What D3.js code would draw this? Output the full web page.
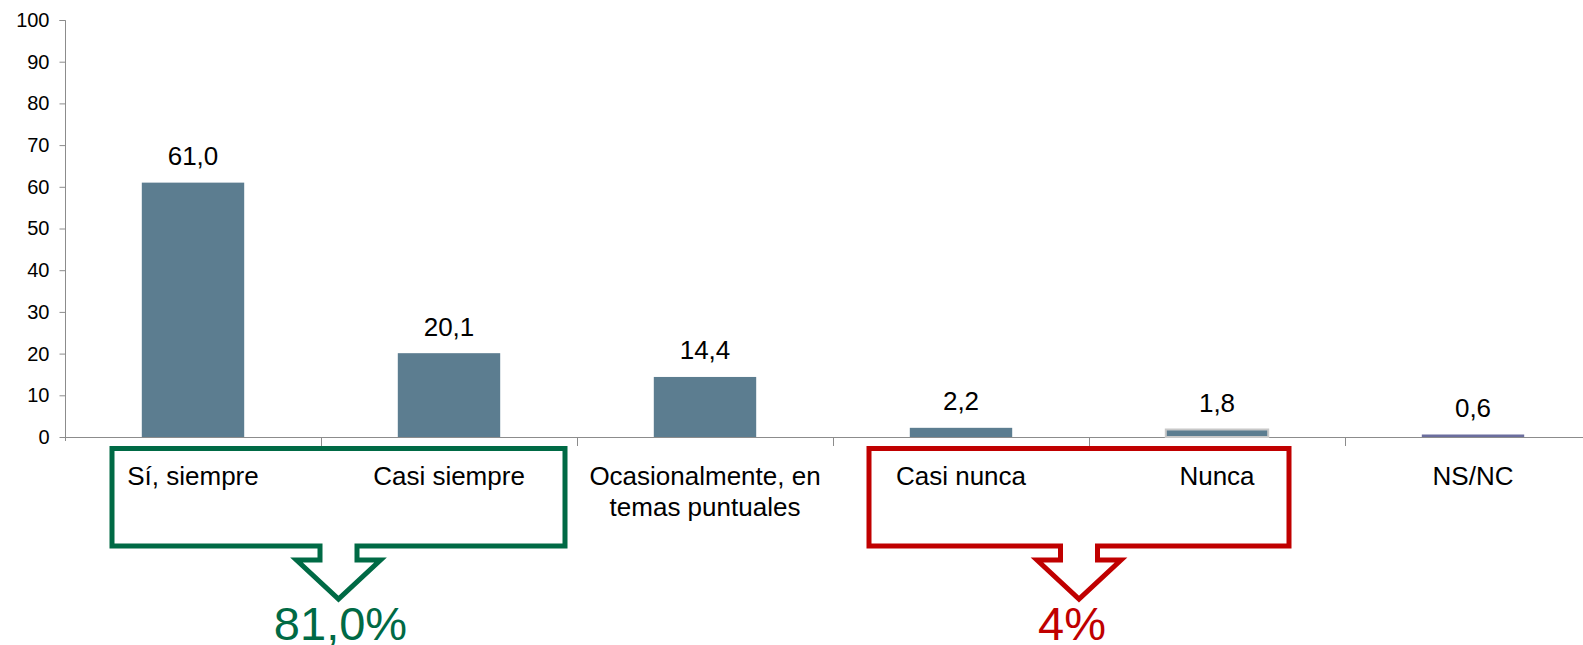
<!DOCTYPE html>
<html lang="es">
<head>
    <meta charset="UTF-8">
    <title>Frecuencia</title>
    <script src="https://d3js.org/d3.v7.min.js"></script>
    <style>
        body { margin: 0; padding: 0; background: #fff; overflow: hidden; }
        svg { display: block; font-family: Arial, "Liberation Sans", sans-serif; }
    </style>
</head>
<body>
    <svg id="chart"></svg>
    <script>
        // data
        const categories = ["Sí, siempre", "Casi siempre", "Ocasionalmente, en temas puntuales", "Casi nunca", "Nunca", "NS/NC"];
        const catLines = [["Sí, siempre"], ["Casi siempre"], ["Ocasionalmente, en", "temas puntuales"], ["Casi nunca"], ["Nunca"], ["NS/NC"]];
        const values = [61.0, 20.1, 14.4, 2.2, 1.8, 0.6];
        const yTicks = [0, 10, 20, 30, 40, 50, 60, 70, 80, 90, 100];
        const groupLabels = ["81,0%", "4%"];
        const groupFrom = [0, 3];
        const groupTo = [1, 4];

        const width = 1583, height = 645;
        const plotLeft = 65, plotTop = 20, base = 437;
        const step = 256;
        const barFill = ["#5C7D90", "#5C7D90", "#5C7D90", "#5C7D90", "#5C7D90", "#6B6E9E"];
        const groupColor = ["#006A45", "#C00000"];
        // box edges relative to band edges, and text nudges
        const boxPad = [[47, 12], [36, 56]];
        const textNudge = [2, -7];

        const svg = d3.select("#chart").attr("width", width).attr("height", height);

        const x = d3.scaleBand()
            .domain(categories)
            .range([plotLeft, plotLeft + step * categories.length])
            .paddingInner(0.6)
            .paddingOuter(0.3);

        const y = d3.scaleLinear().domain([0, 100]).range([base, plotTop]);

        // y axis
        const yAxis = svg.append("g")
            .attr("transform", `translate(${plotLeft + 0.5},0)`)
            .call(d3.axisLeft(y).tickValues(yTicks).tickSize(6).tickPadding(10));
        yAxis.select(".domain").attr("stroke", "#8c8c8c").attr("d", `M-6,${y(100) + 0.5}H0V${base + 4}`);
        yAxis.selectAll(".tick line").attr("stroke", "#8c8c8c");
        yAxis.selectAll(".tick text").style("font-size", "20px").attr("fill", "#000");

        // x axis line and ticks between bands
        svg.append("line")
            .attr("x1", plotLeft).attr("x2", width)
            .attr("y1", base + 0.5).attr("y2", base + 0.5)
            .attr("stroke", "#8c8c8c");
        svg.selectAll(".xtick")
            .data(categories.slice(1))
            .enter().append("line")
            .attr("class", "xtick")
            .attr("x1", d => Math.round(x(d) - x.step() * 0.3) + 0.5)
            .attr("x2", d => Math.round(x(d) - x.step() * 0.3) + 0.5)
            .attr("y1", base).attr("y2", base + 9)
            .attr("stroke", "#8c8c8c");

        // bars
        svg.selectAll(".bar")
            .data(values)
            .enter().append("rect")
            .attr("class", "bar")
            .attr("x", (d, i) => x(categories[i]))
            .attr("y", d => y(d))
            .attr("width", x.bandwidth())
            .attr("height", d => base - y(d))
            .attr("fill", (d, i) => barFill[i])
            .attr("stroke", (d, i) => i === 4 ? "#c8c8c8" : "none")
            .attr("stroke-width", 2);

        // value labels
        svg.selectAll(".val")
            .data(values)
            .enter().append("text")
            .attr("class", "val")
            .attr("x", (d, i) => x(categories[i]) + x.bandwidth() / 2)
            .attr("y", d => y(d) - 17.5)
            .attr("text-anchor", "middle")
            .style("font-size", "26px")
            .attr("fill", "#000")
            .text(d => d.toFixed(1).replace(".", ","));

        // category labels
        const cat = svg.selectAll(".cat")
            .data(catLines)
            .enter().append("text")
            .attr("class", "cat")
            .attr("text-anchor", "middle")
            .style("font-size", "26px")
            .attr("fill", "#000");
        cat.selectAll("tspan")
            .data((d, i) => d.map(t => ({ t, i })))
            .enter().append("tspan")
            .attr("x", d => x(categories[d.i]) + x.bandwidth() / 2)
            .attr("y", (d, j) => base + 48 + j * 31)
            .text(d => d.t);

        // callout boxes with down arrows
        groupLabels.forEach((lab, g) => {
            const L = x(categories[groupFrom[g]]) - x.step() * 0.3 + boxPad[g][0];
            const R = x(categories[groupTo[g]]) + x.bandwidth() + x.step() * 0.3 - boxPad[g][1];
            const T = base + 11.5, B = base + 109;
            const cx = (L + R) / 2;
            const p = d3.path();
            p.moveTo(L, T);
            p.lineTo(R, T);
            p.lineTo(R, B);
            p.lineTo(cx + 18.5, B);
            p.lineTo(cx + 18.5, B + 14);
            p.lineTo(cx + 42, B + 14);
            p.lineTo(cx, B + 53);
            p.lineTo(cx - 42, B + 14);
            p.lineTo(cx - 18.5, B + 14);
            p.lineTo(cx - 18.5, B);
            p.lineTo(L, B);
            p.closePath();
            svg.append("path")
                .attr("d", p.toString())
                .attr("fill", "none")
                .attr("stroke", groupColor[g])
                .attr("stroke-width", 5)
                .attr("stroke-linejoin", "miter");

            svg.append("text")
                .attr("x", cx + textNudge[g])
                .attr("y", 640)
                .attr("text-anchor", "middle")
                .style("font-size", "47px")
                .attr("fill", groupColor[g])
                .text(lab);
        });
    </script>
</body>
</html>
